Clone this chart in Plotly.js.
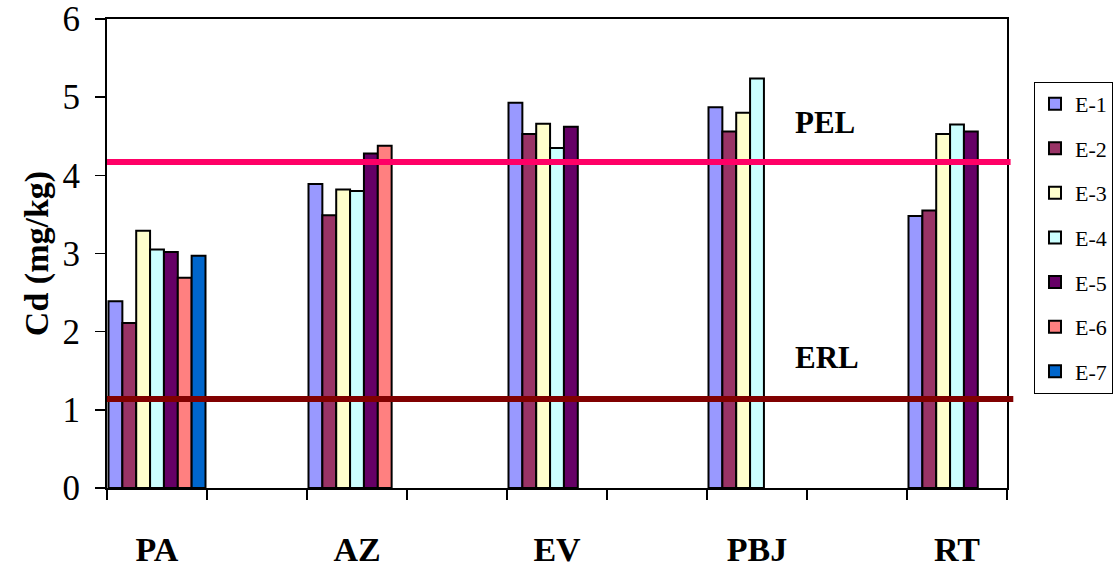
<!DOCTYPE html>
<html>
<head>
<meta charset="utf-8">
<script src="https://cdn.plot.ly/plotly-3.0.1.min.js"></script>
<style>html,body{margin:0;padding:0;background:#fff;}#chart{width:1118px;height:567px;}</style>
</head>
<body>
<div id="chart"></div>
<script>
// Sites (categories) and series values
const sites = ['PA', 'AZ', 'EV', 'PBJ', 'RT'];
const seriesNames = ['E-1', 'E-2', 'E-3', 'E-4', 'E-5', 'E-6', 'E-7'];
const E1 = [2.39, 3.89, 4.93, 4.87, 3.48];
const E2 = [2.11, 3.49, 4.53, 4.56, 3.55];
const E3 = [3.29, 3.82, 4.66, 4.80, 4.53];
const E4 = [3.05, 3.80, 4.35, 5.24, 4.65];
const E5 = [3.02, 4.28, 4.62, null, 4.56];
const E6 = [2.69, 4.38, null, null, null];
const E7 = [2.97, null, null, null, null];
const PEL = 4.17;
const ERL = 1.14;
const colors = ['#9999FF', '#993366', '#FFFFCC', '#CCFFFF', '#660066', '#FF8080', '#0066CC'];

// Category slots: empty spacer slot between sites
const slots = [];
sites.forEach((s, i) => { slots.push(s); if (i < sites.length - 1) slots.push(' '.repeat(i + 1)); });

function toSlots(vals) {
  const out = [];
  vals.forEach((v, i) => { out.push(v); if (i < vals.length - 1) out.push(null); });
  return out;
}

const allSeries = [E1, E2, E3, E4, E5, E6, E7];
const serif = "'Liberation Serif', 'Times New Roman', Times, serif";
const traces = allSeries.map((vals, k) => ({
  type: 'bar',
  name: seriesNames[k],
  x: slots,
  y: toSlots(vals),
  legendgroup: 'g' + k,
  marker: { color: colors[k], line: { color: '#000', width: 2 } }
}));

const layout = {
  width: 1118, height: 567,
  margin: { l: 107, r: 111, t: 19, b: 79, autoexpand: false },
  paper_bgcolor: '#fff', plot_bgcolor: '#fff',
  font: { family: serif, color: '#000' },
  barmode: 'group', bargap: 0.03, bargroupgap: 0,
  showlegend: true,
  legend: {
    x: 1.03, xanchor: 'left', y: 0.866, yanchor: 'top',
    bordercolor: '#000', borderwidth: 1, bgcolor: '#fff',
    font: { family: serif, size: 22, color: '#000' },
    tracegroupgap: 13, itemwidth: 30
  },
  xaxis: {
    type: 'category', categoryorder: 'array', categoryarray: slots,
    range: [-0.5, slots.length - 0.5],
    tickson: 'boundaries', ticks: 'outside', ticklen: 10, tickwidth: 1.5, tickcolor: '#000',
    showline: true, linecolor: '#000', linewidth: 2, mirror: true,
    showgrid: false, zeroline: false,
    tickfont: { family: serif, size: 34, color: '#000', weight: 'bold' },
    ticklabelstandoff: 30
  },
  yaxis: {
    range: [0, 6], dtick: 1, tick0: 0,
    ticks: 'outside', ticklen: 10, tickwidth: 1.5, tickcolor: '#000',
    showline: true, linecolor: '#000', linewidth: 2, mirror: true,
    showgrid: false, zeroline: false,
    tickfont: { family: serif, size: 35, color: '#000' },
    ticklabelstandoff: 8,
    title: { text: 'Cd (mg/kg)', font: { family: serif, size: 34, color: '#000', weight: 'bold' }, standoff: 4 }
  },
  shapes: [
    { type: 'line', xref: 'paper', yref: 'y', x0: 0, x1: 1.004, y0: PEL, y1: PEL, line: { color: '#FF0066', width: 6 }, layer: 'above' },
    { type: 'line', xref: 'paper', yref: 'y', x0: 0, x1: 1.007, y0: ERL, y1: ERL, line: { color: '#800000', width: 6 }, layer: 'above' }
  ],
  annotations: [
    { text: 'PEL', xref: 'paper', yref: 'y', x: 0.798, y: 4.68, xanchor: 'center', yanchor: 'middle', showarrow: false, font: { family: serif, size: 31, color: '#000', weight: 'bold' } },
    { text: 'ERL', xref: 'paper', yref: 'y', x: 0.8, y: 1.67, xanchor: 'center', yanchor: 'middle', showarrow: false, font: { family: serif, size: 31, color: '#000', weight: 'bold' } }
  ]
};

Plotly.newPlot('chart', traces, layout, { staticPlot: true, displayModeBar: false });
</script>
</body>
</html>
